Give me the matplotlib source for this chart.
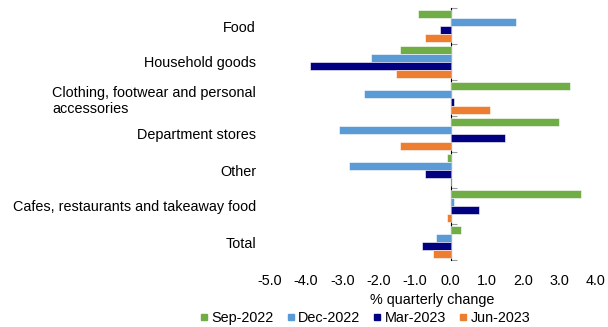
import matplotlib.pyplot as plt
import numpy as np
from matplotlib.lines import Line2D

plt.rcParams['font.family'] = ['Liberation Sans', 'DejaVu Sans']

categories = ['Food', 'Household goods', 'Clothing, footwear and personal\naccessories',
              'Department stores', 'Other', 'Cafes, restaurants and takeaway food', 'Total']
series = ['Sep-2022', 'Dec-2022', 'Mar-2023', 'Jun-2023']
sep22 = [-0.9, -1.4, 3.3, 3.0, -0.1, 3.6, 0.3]
dec22 = [1.8, -2.2, -2.4, -3.1, -2.8, 0.1, -0.4]
mar23 = [-0.3, -3.9, 0.1, 1.5, -0.7, 0.8, -0.8]
jun23 = [-0.7, -1.5, 1.1, -1.4, 0.0, -0.1, -0.5]
colors = ['#70AD47', '#5B9BD5', '#000080', '#ED7D31']
xticks = [-5, -4, -3, -2, -1, 0, 1, 2, 3, 4]

fs = 10.4
fig = plt.figure(figsize=(6.08, 3.27), dpi=100)
ax = fig.add_axes([270 / 608, 1 - 260 / 327, 325 / 608, 252 / 327])

n = len(categories)
y = np.arange(n)
h = 0.22
for i, (vals, c) in enumerate(zip([sep22, dec22, mar23, jun23], colors)):
    offs = (i - 1.5) * h
    ax.barh(y + offs, vals, height=h * 0.92, color=c, edgecolor='white', linewidth=0.4)

ax.set_ylim(n - 0.5, -0.5)
ax.set_xlim(-5, 4)
ax.set_xticks(xticks)
ax.set_xticklabels([f'{v:.1f}' for v in xticks], fontsize=fs)
ax.set_yticks(y)
ax.set_yticklabels(categories, fontsize=fs)
for lbl in ax.get_yticklabels():
    lbl.set_multialignment('left')
ax.tick_params(axis='both', length=0)
ax.tick_params(axis='y', pad=10)
ax.tick_params(axis='x', pad=10)
for s in ax.spines.values():
    s.set_visible(False)
ax.set_xlabel('% quarterly change', fontsize=fs, labelpad=4)

# zero line with category boundary ticks
zero = ax.secondary_yaxis(5 / 9)
zero.set_ylim(n - 0.5, -0.5)
zero.set_yticks(np.arange(n + 1) - 0.5)
zero.set_yticklabels([])
zero.tick_params(axis='y', direction='out', length=4, color='#9a9a9a', width=0.8)
zero.spines['left'].set_color('#9a9a9a')
zero.spines['left'].set_linewidth(0.8)

handles = [Line2D([], [], marker='s', linestyle='none', color=c, markersize=5) for c in colors]
fig.legend(handles, series, loc='lower center', bbox_to_anchor=(0.6, -0.03), ncol=4,
           frameon=False, fontsize=fs, handlelength=0.6, handletextpad=0.2,
           columnspacing=0.9, borderpad=0.3)

fig.savefig('out.png', dpi=100)
